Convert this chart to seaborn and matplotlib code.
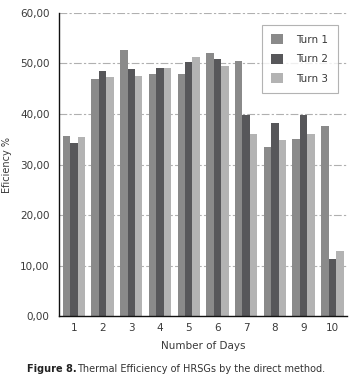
import matplotlib
matplotlib.use("Agg")
from matplotlib import pyplot as plt
import numpy as np
import pandas as pd
import seaborn as sns

# values
days = ["1", "2", "3", "4", "5", "6", "7", "8", "9", "10"]
turn1 = [35.7, 47.0, 52.6, 47.9, 47.9, 52.0, 50.5, 33.5, 35.0, 37.6]
turn2 = [34.3, 48.6, 48.9, 49.1, 50.3, 50.9, 39.9, 38.3, 39.9, 11.4]
turn3 = [35.5, 47.4, 47.6, 49.1, 51.2, 49.5, 36.0, 34.8, 36.0, 12.9]
turns = ["Turn 1", "Turn 2", "Turn 3"]
yticks = [0, 10, 20, 30, 40, 50, 60]

colors = ["#8a8a8a", "#57575a", "#b3b3b3"]
TXT = "#3a3a3a"

rows = []
for name, vals in zip(turns, [turn1, turn2, turn3]):
    for d, v in zip(days, vals):
        rows.append({"day": d, "turn": name, "eff": v})
df = pd.DataFrame(rows)

sns.set_style("white")
plt.rcParams["font.family"] = ["DejaVu Sans"]
plt.rcParams["font.size"] = 7

fig = plt.figure(figsize=(3.56, 3.80), dpi=100)
ax = fig.add_axes([0.167, 0.168, 0.807, 0.798])

for y in yticks[1:]:
    ax.axhline(y, color="#b0b0b0", lw=0.8, ls=(0, (7, 2, 2, 2)), zorder=0)

sns.barplot(data=df, x="day", y="eff", hue="turn", palette=colors,
            width=0.78, gap=0, saturation=1, ax=ax, zorder=2,
            edgecolor="none", linewidth=0)

ax.set_ylim(0, 60)
ax.set_xlim(-0.5, 9.5)
ax.set_yticks(yticks)
ax.set_yticklabels([f"{t},00" for t in yticks])
ax.tick_params(axis="both", length=0, colors=TXT, labelsize=7.5)
ax.tick_params(axis="y", pad=7)
ax.tick_params(axis="x", pad=5)

for s in ["top", "right"]:
    ax.spines[s].set_visible(False)
for s in ["left", "bottom"]:
    ax.spines[s].set_color("#111111")
    ax.spines[s].set_linewidth(1.0)

ax.set_ylabel("Eficiency %", color=TXT, fontsize=7, labelpad=6)
ax.set_xlabel("Number of Days", color=TXT, fontsize=7.5, labelpad=6)

leg = ax.legend(loc="upper right", bbox_to_anchor=(0.968, 0.96),
                frameon=True, fancybox=False, edgecolor="#a0a0a0",
                handlelength=1.1, handleheight=1.1, handletextpad=1.3,
                labelspacing=0.85, borderpad=0.9, borderaxespad=0,
                fontsize=7.5)
leg.get_frame().set_linewidth(0.8)
for t in leg.get_texts():
    t.set_color(TXT)

cap1 = fig.text(0.076, 0.022, "Figure 8.", fontsize=7, fontweight="bold",
                color="#222222")
fig.canvas.draw()
bb = cap1.get_window_extent().transformed(fig.transFigure.inverted())
fig.text(bb.x1, 0.022, "Thermal Efficiency of HRSGs by the direct method.",
         fontsize=7, color="#333333")

fig.savefig("out.png", dpi=100)
